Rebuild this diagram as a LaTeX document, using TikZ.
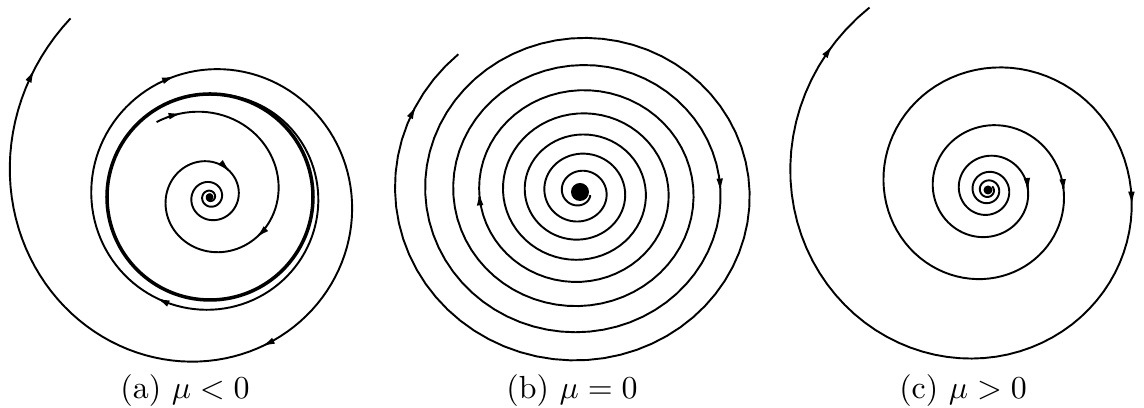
\documentclass[tikz,border=0pt]{standalone}
\usepackage{amsmath}
\usetikzlibrary{arrows.meta}

\begin{document}
\begin{tikzpicture}[>={Latex[length=4.2pt,width=2.1pt]}, line width=0.6pt, x=0.011cm, y=0.011cm,
  declare function={
    ra(\t)=103+4.5*exp(0.005*\t)-3.5*exp(-\t/60);   % outside the cycle in (a)
    ri(\t)=92*exp(-0.00241*\t);                     % inside the cycle in (a)
    rb(\t)=18+16.5*(\t/360)+1.05*(\t/360)*(\t/360); % weak spiral in (b)
    rc(\t)=55*exp(0.00177*\t);                      % unstable spiral in (c)
  }]
  %================= Parameters (edit these) =================
  % centres of the three portraits
  \def\cax{210} \def\cay{211}
  \def\cbx{580} \def\cby{216}
  \def\ccx{988} \def\ccy{218}
  \def\Rlc{103}   % radius of the unstable limit cycle
  \useasboundingbox (0,0) rectangle (1144,408);

  %================= (a) mu < 0 =================
  % unstable limit cycle
  \draw[line width=1.1pt] (\cax,\cay) circle[radius=\Rlc];
  % outside: leaves the cycle, spirals outwards
  \draw plot[domain=-10:662, samples=220]
    ({\cax+ra(\x)*cos(70-\x)}, {\cay+ra(\x)*sin(70-\x)});
  \foreach \b in {188,324,501,646}
    \draw[->] plot[domain=\b-3:\b, samples=2]
      ({\cax+ra(\x)*cos(70-\x)}, {\cay+ra(\x)*sin(70-\x)});
  % inside: spirals into the stable fixed point
  \draw plot[domain=0:1500, samples=400]
    ({\cax+ri(\x)*cos(125.5-\x)}, {\cay+ri(\x)*sin(125.5-\x)});
  \foreach \b in {17,167,434}
    \draw[->] plot[domain=\b-4:\b, samples=2]
      ({\cax+ri(\x)*cos(125.5-\x)}, {\cay+ri(\x)*sin(125.5-\x)});
  \fill (\cax,\cay) circle[radius=3.5];

  %================= (b) mu = 0 =================
  \draw plot[domain=-162:2570, samples=500]
    ({\cbx+rb(\x)*cos(180-\x)}, {\cby+0.95*rb(\x)*sin(180-\x)});
  \foreach \b in {1440,1980,2549}
    \draw[->] plot[domain=\b-3:\b, samples=2]
      ({\cbx+rb(\x)*cos(180-\x)}, {\cby+0.95*rb(\x)*sin(180-\x)});
  \fill (\cbx,\cby) circle[radius=9];

  %================= (c) mu > 0 =================
  \draw plot[domain=-1300:777, samples=500]
    ({\ccx+rc(\x)*cos(180-\x)}, {\ccy+rc(\x)*sin(180-\x)});
  \foreach \b in {-178,182,546,763}
    \draw[->] plot[domain=\b-3:\b, samples=2]
      ({\ccx+rc(\x)*cos(180-\x)}, {\ccy+rc(\x)*sin(180-\x)});
  \fill (\ccx,\ccy) circle[radius=4.5];

  %================= Captions =================
  \node (capa) at (185,17) {(a) $\mu<0$};
  \node (capb) at (572,17) {(b) $\mu=0$};
  \node (capc) at (963,17) {(c) $\mu>0$};

\end{tikzpicture}
\end{document}
